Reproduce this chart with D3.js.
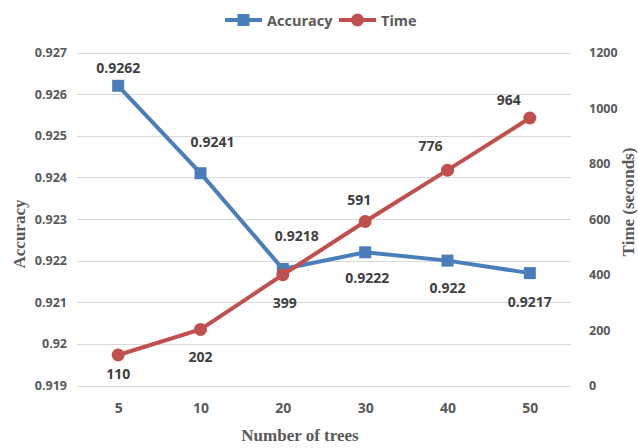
<!DOCTYPE html>
<html>
<head>
<meta charset="utf-8">
<script src="https://cdn.jsdelivr.net/npm/d3@7"></script>
<style>
  body { margin: 0; background: #fff; }
  svg text { font-family: "Open Sans", "Liberation Sans", sans-serif; }
</style>
</head>
<body>
<svg id="chart" width="638" height="448"></svg>
<script>
var trees = ["5", "10", "20", "30", "40", "50"];
var accuracy = [0.9262, 0.9241, 0.9218, 0.9222, 0.922, 0.9217];
var time = [110, 202, 399, 591, 776, 964];
var accTicks = [0.919, 0.92, 0.921, 0.922, 0.923, 0.924, 0.925, 0.926, 0.927];
var timeTicks = [0, 200, 400, 600, 800, 1000, 1200];
// data label nudges (dx, dy) from each point
var accLabelDx = [0, 12, 14, 2, 0, 0];
var accLabelDy = [-13, -26, -28, 31, 32, 34];
var timeLabelDx = [0, 0, 2, -6, -17, -21];
var timeLabelDy = [24, 33, 33, -16, -19, -13];

var svg = d3.select("#chart");
var plotLeft = 77, plotRight = 571, plotTop = 52.5, plotBottom = 385.5;
var blue = "#4a7ebb", red = "#c0504d", grey = "#595959";

var x = d3.scalePoint().domain(trees).range([plotLeft, plotRight]).padding(0.5);
var yAcc = d3.scaleLinear().domain([0.919, 0.927]).range([plotBottom, plotTop]);
var yTime = d3.scaleLinear().domain([0, 1200]).range([plotBottom, plotTop]);

// gridlines
svg.append("g")
    .selectAll("line")
    .data(accTicks)
    .enter()
    .append("line")
    .attr("x1", plotLeft)
    .attr("x2", plotRight)
    .attr("y1", function(d) { return Math.round(yAcc(d)) + 0.5; })
    .attr("y2", function(d) { return Math.round(yAcc(d)) + 0.5; })
    .attr("stroke", "#d9d9d9")
    .attr("stroke-width", 1);

// left axis
var leftAxis = svg.append("g")
    .attr("transform", "translate(" + plotLeft + ",0)")
    .call(d3.axisLeft(yAcc).tickValues(accTicks).tickSize(0).tickPadding(10)
        .tickFormat(function(d) { return String(+d.toFixed(3)); }));
leftAxis.select(".domain").remove();

// right axis
var rightAxis = svg.append("g")
    .attr("transform", "translate(" + plotRight + ",0)")
    .call(d3.axisRight(yTime).tickValues(timeTicks).tickSize(0).tickPadding(18)
        .tickFormat(d3.format("d")));
rightAxis.select(".domain").remove();

// bottom axis
var bottomAxis = svg.append("g")
    .attr("transform", "translate(0," + plotBottom + ")")
    .call(d3.axisBottom(x).tickSize(0).tickPadding(18));
bottomAxis.select(".domain").remove();

svg.selectAll(".tick text")
    .style("fill", grey)
    .style("font-size", "12.5px")
    .style("font-weight", "bold");
bottomAxis.selectAll(".tick text").style("font-size", "14px");

// accuracy line
svg.append("path")
    .datum(accuracy)
    .attr("d", d3.line()
        .x(function(d, i) { return x(trees[i]); })
        .y(function(d) { return yAcc(d); }))
    .attr("fill", "none")
    .attr("stroke", blue)
    .attr("stroke-width", 4);

svg.append("g")
    .selectAll("rect")
    .data(accuracy)
    .enter()
    .append("rect")
    .attr("x", function(d, i) { return x(trees[i]) - 6; })
    .attr("y", function(d) { return yAcc(d) - 6; })
    .attr("width", 12)
    .attr("height", 12)
    .attr("fill", blue);

// time line
svg.append("path")
    .datum(time)
    .attr("d", d3.line()
        .x(function(d, i) { return x(trees[i]); })
        .y(function(d) { return yTime(d); }))
    .attr("fill", "none")
    .attr("stroke", red)
    .attr("stroke-width", 4);

svg.append("g")
    .selectAll("circle")
    .data(time)
    .enter()
    .append("circle")
    .attr("cx", function(d, i) { return x(trees[i]); })
    .attr("cy", function(d) { return yTime(d); })
    .attr("r", 6.5)
    .attr("fill", red);

// data labels
svg.append("g")
    .selectAll("text")
    .data(accuracy)
    .enter()
    .append("text")
    .attr("x", function(d, i) { return x(trees[i]) + accLabelDx[i]; })
    .attr("y", function(d, i) { return yAcc(d) + accLabelDy[i]; })
    .attr("text-anchor", "middle")
    .text(function(d) { return String(d); })
    .style("fill", "#404040")
    .style("font-size", "14px")
    .style("font-weight", "bold");

svg.append("g")
    .selectAll("text")
    .data(time)
    .enter()
    .append("text")
    .attr("x", function(d, i) { return x(trees[i]) + timeLabelDx[i]; })
    .attr("y", function(d, i) { return yTime(d) + timeLabelDy[i]; })
    .attr("text-anchor", "middle")
    .text(function(d) { return String(d); })
    .style("fill", "#404040")
    .style("font-size", "14px")
    .style("font-weight", "bold");

// axis titles
svg.append("text")
    .attr("transform", "translate(25,234) rotate(-90)")
    .attr("text-anchor", "middle")
    .text("Accuracy")
    .style("font-family", "'Liberation Serif', 'DejaVu Serif', serif")
    .style("font-size", "17px")
    .style("font-weight", "bold")
    .style("fill", grey);

svg.append("text")
    .attr("transform", "translate(634,202) rotate(-90)")
    .attr("text-anchor", "middle")
    .text("Time (seconds)")
    .style("font-family", "'Liberation Serif', 'DejaVu Serif', serif")
    .style("font-size", "17px")
    .style("font-weight", "bold")
    .style("fill", grey);

svg.append("text")
    .attr("x", 300)
    .attr("y", 441)
    .attr("text-anchor", "middle")
    .text("Number of trees")
    .style("font-family", "'Liberation Serif', 'DejaVu Serif', serif")
    .style("font-size", "17px")
    .style("font-weight", "bold")
    .style("fill", grey);

// legend
var legend = svg.append("g").attr("transform", "translate(225,20)");
legend.append("line").attr("x1", 0).attr("x2", 37).attr("y1", 0).attr("y2", 0)
    .attr("stroke", blue).attr("stroke-width", 4);
legend.append("rect").attr("x", 12.5).attr("y", -6).attr("width", 12).attr("height", 12)
    .attr("fill", blue);
legend.append("text").attr("x", 42).attr("y", 5.5).text("Accuracy")
    .style("fill", grey).style("font-size", "14.5px").style("font-weight", "bold");
legend.append("line").attr("x1", 114).attr("x2", 151).attr("y1", 0).attr("y2", 0)
    .attr("stroke", red).attr("stroke-width", 4);
legend.append("circle").attr("cx", 132.5).attr("cy", 0).attr("r", 6.5)
    .attr("fill", red);
legend.append("text").attr("x", 156).attr("y", 5.5).text("Time")
    .style("fill", grey).style("font-size", "14.5px").style("font-weight", "bold");
</script>
</body>
</html>
